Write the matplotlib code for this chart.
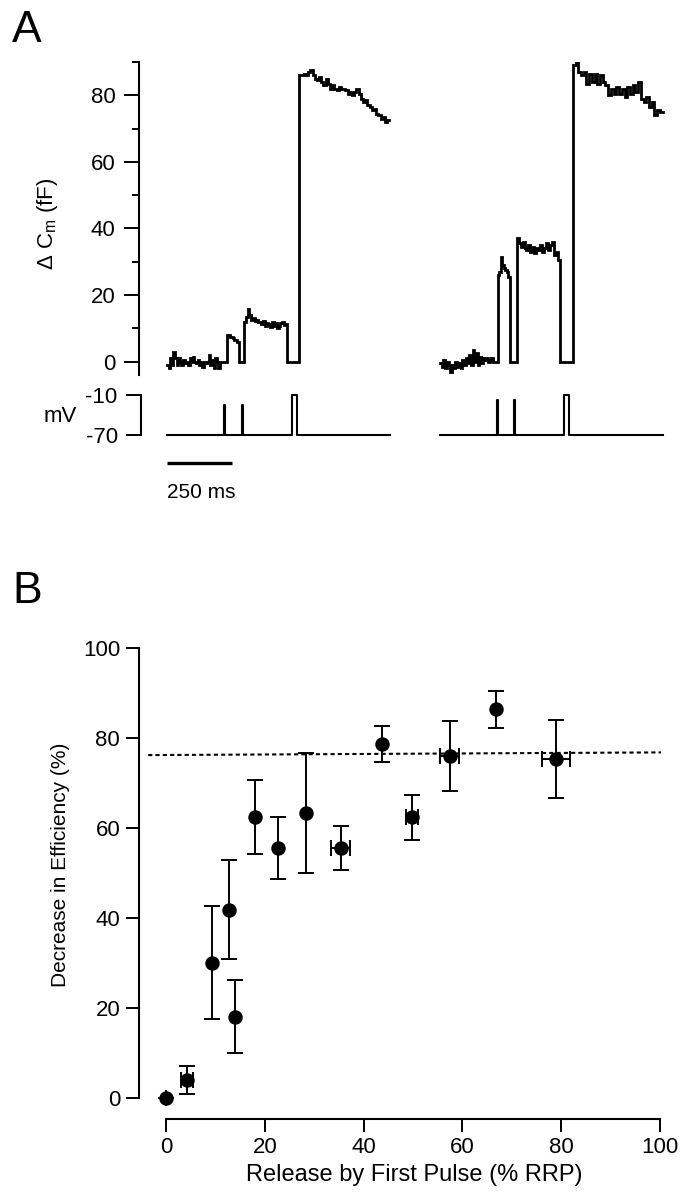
import numpy as np
import matplotlib
matplotlib.use('Agg')
import matplotlib.pyplot as plt
from matplotlib import transforms

plt.rcParams['font.family'] = ['Liberation Sans', 'DejaVu Sans']
plt.rcParams['mathtext.fontset'] = 'custom'
plt.rcParams['mathtext.rm'] = 'Liberation Sans'
plt.rcParams['axes.unicode_minus'] = False

# ---------------- Panel A data (time in ms, Cm in fF) ----------------
# trace 1
t1_bounds = [0, 204, 232, 275, 297, 463, 509, 855]
c1_base = [-1, -2, 1, -1, 3, 1, -1, 1, 0, -1, 0.5, -0.5, 0, -1, 1, 0, 1.5, 0,
           -0.5, 0.5, -1, 0, -1.5, 0, -0.5, 0, 2, -1, 0.5, -2, 1, 0, -2]
c1_p1 = [8, 8, 7.5, 7.5, 7, 6.5, 6.5, 6]
c1_p2 = [12, 13.5, 15.8, 14, 12.6, 13, 12.2, 12.5, 11.8, 12, 11.4, 12.2, 10.6,
         11.5, 11.2, 10.5, 12, 10.8, 11.5, 10, 10.8, 11.6, 11.8, 11, 11.2]
c1_p3 = [86, 86, 86.5, 86, 87, 87.5, 86, 85, 84.5, 85.5, 84, 83, 85, 83.5, 82,
         83, 82, 81.5, 82.5, 82, 82, 81.5, 80.5, 81, 80, 81, 82, 80.5, 79, 78,
         78.5, 77, 76.5, 75.5, 76, 74.5, 74, 73, 73.5, 72, 72.5]
# trace 2
t2_bounds = [0, 204, 223, 269, 295, 460, 511, 856]
c2_base = [-0.5, -1.5, 0.5, -2, 0, -1, -3, -1, -2, 0, -1.5, -0.5, -2, 0.5, -1,
           1, -0.5, 2, -1, 3.5, 0, 2.5, -1, 1.5, -0.5, 1, 0.5, 1, 0, 0.5, 1]
c2_p1 = [26, 27, 31.5, 29, 28, 27.5, 27, 25.5]
c2_p2 = [37, 35.5, 34.5, 36, 34, 33.5, 35, 33, 34.5, 32.5, 34, 33.5, 35, 33,
         34, 35.5, 33.5, 35, 36, 32, 33, 30.5]
c2_p3 = [89, 90.5, 87, 86, 87, 83.5, 86.5, 84, 86.5, 83.5, 86, 84, 83, 80, 82,
         80.5, 82.5, 80.5, 82, 79.5, 82.5, 80.5, 83, 81, 84, 79, 78, 79.5, 76.5,
         78, 74, 75.5, 75]

# voltage protocol (ms, mV)
v1_t = [0, 219, 222, 288, 291, 481, 500, 858]
v1_v = [-70, -25, -70, -25, -70, -10, -70, -70]
v2_t = [0, 219, 222, 285, 288, 477, 496, 858]
v2_v = [-70, -18, -70, -18, -70, -10, -70, -70]

cm_ticks = [0, 20, 40, 60, 80]
cm_minor = [10, 30, 50, 70, 90]
v_ticks = [-10, -70]
v_ticklabels = ['-10', '-70']
scalebar_ms = 250

# ---------------- Panel B data ----------------
rel_x = [0, 4.2, 9.4, 12.7, 14.0, 18.0, 22.7, 28.4, 35.4, 43.8, 49.8, 57.4, 66.7, 78.9]
dec_y = [0, 4.0, 30.1, 41.8, 18.1, 62.4, 55.6, 63.4, 55.6, 78.7, 62.4, 76.0, 86.4, 75.4]
dec_yerr = [0, 3.1, 12.6, 11.0, 8.2, 8.2, 6.9, 13.3, 4.9, 4.0, 5.0, 7.7, 4.1, 8.7]
rel_xerr = [0, 1.2, 0, 0, 0, 0, 0, 0, 1.9, 0, 1.2, 1.9, 0, 2.8]
fit_x = [-3.6, 100.2]
fit_y = [76.2, 76.8]
b_ticks = [0, 20, 40, 60, 80, 100]


def build(bounds, segs):
    ts, vs = [], []
    for (t0, t1), vals in zip(zip(bounds[:-1], bounds[1:]), segs):
        t = np.linspace(t0, t1, len(vals) + 1)
        ts.extend(t)
        vs.extend(list(vals) + [vals[-1]])
    return np.array(ts), np.array(vs)


W, H = 689, 1199
fig = plt.figure(figsize=(W / 100, H / 100), dpi=100)


def fbox(l, t, r, b):
    return [l / W, 1 - b / H, (r - l) / W, (b - t) / H]


MS_PER_PX = 250 / 65.0
X0 = 167  # px where traces start
trace2_offset = (440 - 167) * MS_PER_PX
xl = ((139 - X0) * MS_PER_PX, (680 - X0) * MS_PER_PX)

# ---- Cm axes ----
axc = fig.add_axes(fbox(139, 62, 680, 375))
tt1, cc1 = build(t1_bounds, [c1_base, [0], c1_p1, [0], c1_p2, [0], c1_p3])
tt2, cc2 = build(t2_bounds, [c2_base, [0], c2_p1, [0], c2_p2, [0], c2_p3])
axc.plot(tt1, cc1, color='black', lw=2.0, drawstyle='steps-post', solid_joinstyle='miter')
axc.plot(tt2 + trace2_offset, cc2, color='black', lw=2.0, drawstyle='steps-post',
         solid_joinstyle='miter')
axc.set_xlim(*xl)
axc.set_ylim(-4, 90)
for s in ['top', 'right', 'bottom']:
    axc.spines[s].set_visible(False)
axc.spines['left'].set_linewidth(1.5)
axc.set_xticks([])
axc.set_yticks(cm_ticks)
axc.set_yticks(cm_minor, minor=True)
axc.tick_params(axis='y', which='major', direction='out', length=10.8, width=1.4,
                labelsize=16, pad=6)
axc.tick_params(axis='y', which='minor', direction='out', length=5, width=1.4)

# ---- Voltage axes ----
axv = fig.add_axes(fbox(141, 395, 682, 435))
axv.plot(v1_t, v1_v, color='black', lw=1.5, drawstyle='steps-post', clip_on=False)
axv.plot(np.array(v2_t) + trace2_offset, v2_v, color='black', lw=1.5,
         drawstyle='steps-post', clip_on=False)
axv.set_xlim(xl[0] + 2 * MS_PER_PX, xl[1] + 2 * MS_PER_PX)
axv.set_ylim(-70, -10)
for s in ['top', 'right', 'bottom']:
    axv.spines[s].set_visible(False)
axv.spines['left'].set_linewidth(1.5)
axv.set_xticks([])
axv.set_yticks(v_ticks)
axv.set_yticklabels(v_ticklabels)
axv.tick_params(axis='y', direction='out', length=10.8, width=1.4, labelsize=16, pad=6)

# scale bar
tr = transforms.blended_transform_factory(axv.transData, fig.transFigure)
axv.plot([0, scalebar_ms], [1 - 463 / H] * 2, color='black', lw=2.4,
         transform=tr, clip_on=False, solid_capstyle='butt')
axv.text(0, 1 - 483 / H, f'{scalebar_ms} ms', transform=tr, ha='left', va='top', fontsize=15)

fig.text(48 / W, 1 - 224 / H, 'Δ C$_\\mathregular{m}$ (fF)', rotation=90,
         ha='center', va='center', fontsize=16)
fig.text(60 / W, 1 - 417 / H, 'mV', ha='center', va='center', fontsize=16)
fig.text(12 / W, 1 - 42 / H, 'A', ha='left', va='baseline', fontsize=32)

# ---------------- Panel B ----------------
axb = fig.add_axes(fbox(138.8, 639, 669.9, 1118.7))
axb.plot(fit_x, fit_y, color='black', lw=1.5, ls=(0, (2, 1.5)), clip_on=False)
axb.errorbar(rel_x, dec_y, yerr=dec_yerr, xerr=rel_xerr, fmt='o', color='black',
             ms=9.4, elinewidth=1.4, capsize=6, capthick=1.4, clip_on=False)
axb.set_xlim(-5.5, 102)
axb.set_ylim(-4.6, 102)
for s in ['top', 'right']:
    axb.spines[s].set_visible(False)
axb.spines['left'].set_bounds(0, 100)
axb.spines['bottom'].set_bounds(0, 100)
axb.spines['left'].set_linewidth(1.5)
axb.spines['bottom'].set_linewidth(1.5)
axb.set_xticks(b_ticks)
axb.set_yticks(b_ticks)
axb.tick_params(direction='out', length=9.4, width=1.4, labelsize=16, pad=4)
fig.text(61 / W, 1 - 865 / H, 'Decrease in Efficiency (%)', rotation=90,
         ha='center', va='center', fontsize=15)
fig.text(414 / W, 1 - 1175 / H, 'Release by First Pulse (% RRP)', ha='center',
         va='center', fontsize=17)
fig.text(12 / W, 1 - 603 / H, 'B', ha='left', va='baseline', fontsize=32)

fig.savefig('out.png', dpi=100)
